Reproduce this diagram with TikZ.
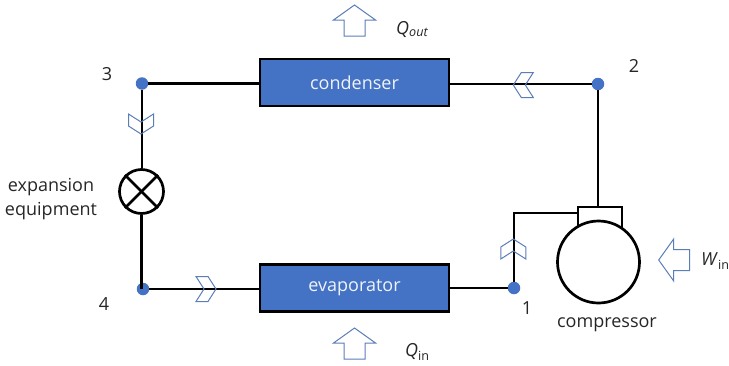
\documentclass[tikz,border=0pt]{standalone}
\usepackage{fontspec}
\setmainfont{Open Sans}
\definecolor{unitblue}{HTML}{4472C4}
\definecolor{markblue}{HTML}{5B7DB8}
\definecolor{labelgray}{HTML}{262626}
\tikzset{
    wire/.style={line width=2.7pt,black},
    thinwire/.style={line width=2pt,black},
    joint/.style={circle,fill=unitblue,inner sep=0pt,minimum size=12.5pt},
    unit/.style={rectangle,draw=black,line width=2.7pt,fill=unitblue,text=white!92!unitblue,
        minimum width=189pt,minimum height=47pt,inner sep=0pt,font=\fontsize{18}{18}\selectfont},
    label/.style={text=labelgray,inner sep=0pt,font=\fontsize{18}{24.5}\selectfont,align=center},
    heatarrow/.pic={
        \draw[markblue,line width=1pt,line join=miter]
            (0,0) -- (-15,21) -- (-15,10.5) -- (-31,10.5) -- (-31,-10.5) -- (-15,-10.5) -- (-15,-21) -- cycle;
    },
    flowmark/.pic={
        \draw[markblue,line width=1pt,line join=miter]
            (0,0) -- (-8,12.5) -- (-20,12.5) -- (-12,0) -- (-20,-12.5) -- (-8,-12.5) -- cycle;
    }
}
\begin{document}
\begin{tikzpicture}[x=1pt,y=-1pt]
    \useasboundingbox (0,0) rectangle (729,365);

    \node[unit] (condenser) at (354.5,82.5) {condenser};
    \node[unit] (evaporator) at (354.5,288) {evaporator};

    \node[joint] (j3) at (142,83.5) {};
    \node[joint] (j2) at (598,84) {};
    \node[joint] (j1) at (514,288) {};
    \node[joint] (j4) at (143,289) {};

    \node[circle,draw=black,line width=2.7pt,inner sep=0pt,minimum size=44pt] (valve) at (141.5,191.5) {};
    \draw[wire] (valve.45) -- (valve.225);
    \draw[wire] (valve.135) -- (valve.315);

    % compressor head goes first, the circle covers its lower edge
    \node[rectangle,draw=black,line width=2pt,inner sep=0pt,minimum width=44pt,minimum height=21pt] (head) at (600,217.5) {};
    \node[circle,draw=black,line width=2.7pt,fill=white,inner sep=0pt,minimum size=82pt] (compressor) at (598.5,262) {};
    \coordinate (inlet) at (578,213);
    \coordinate (outlet) at (598,207);

    \draw[wire] (j3) -- (condenser.west |- j3);
    \draw[wire] (j2) -- (condenser.east |- j2);
    \draw[wire] (j3) -- (valve.north -| j3);
    \draw[wire] (valve.south) -- (valve.south |- j4);
    \draw[wire] (j4) -- (evaporator.west |- j4);
    \draw[wire] (evaporator.east |- j1) -- (j1);
    \draw[wire] (j2) -- (outlet);
    \draw[thinwire] (j1) |- (inlet);

    \pic[rotate=-90] at (141,134) {flowmark};
    \pic[rotate=180] at (513.3,85) {flowmark};
    \pic at (216,289) {flowmark};
    \pic[rotate=90] at (513.3,239) {flowmark};

    \pic[rotate=90] at (354.5,5) {heatarrow};
    \pic[rotate=90] at (354.5,328) {heatarrow};
    \pic[rotate=180] at (658.7,260) {heatarrow};

    \node[label] (n3) at (107,74) {3};
    \node[label] (n2) at (634,66) {2};
    \node[label] (n1) at (527,308) {1};
    \node[label] (n4) at (104,304) {4};
    \node[label] (expansion) at (51,199) {expansion\\equipment};
    \node[label] (compname) at (607,325) {compressor};
    \node[label,anchor=west] (qout) at (396,29) {\textit{Q}\textsubscript{\textit{out}}};
    \node[label,anchor=west] (qin) at (405,352) {\textit{Q}\textsubscript{in}};
    \node[label,anchor=west] (win) at (701,261) {\textit{W}\textsubscript{in}};
\end{tikzpicture}
\end{document}
